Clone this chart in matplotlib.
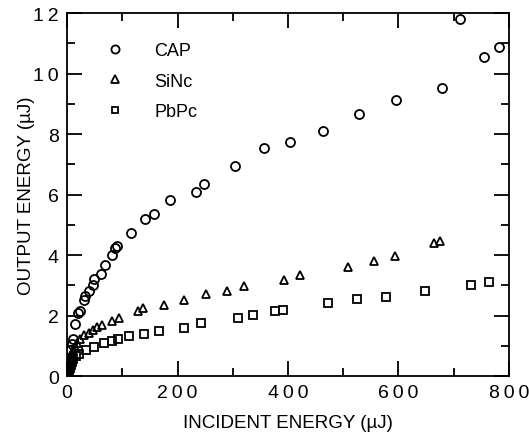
import matplotlib
matplotlib.use("Agg")
import matplotlib.pyplot as plt
from matplotlib.ticker import MultipleLocator, FuncFormatter

plt.rcParams["font.family"] = ["Liberation Sans", "DejaVu Sans"]

# incident energy (uJ) / output energy (uJ)
cap_x = [1, 2, 4, 6, 8, 11, 14, 20, 24, 30, 33, 39, 46, 48, 61, 69, 82, 87, 91,
         115, 141, 157, 187, 233, 247, 304, 357, 404, 463, 529, 595, 679, 711, 755, 782]
cap_y = [0.15, 0.35, 0.6, 0.85, 1.05, 1.22, 1.72, 2.1, 2.16, 2.5, 2.65, 2.8, 3.02, 3.21, 3.38,
         3.66, 4.0, 4.25, 4.29, 4.72, 5.2, 5.35, 5.83, 6.07, 6.35, 6.93, 7.53, 7.75,
         8.09, 8.66, 9.13, 9.51, 11.8, 10.54, 10.87]

sinc_x = [1, 2, 4, 6, 8, 11, 14, 18, 24, 31, 39, 46, 54, 63, 81, 94, 129, 138, 176,
          212, 251, 289, 321, 393, 422, 509, 556, 593, 664, 675]
sinc_y = [0.1, 0.25, 0.4, 0.55, 0.7, 0.85, 0.95, 1.08, 1.22, 1.36, 1.44, 1.53, 1.61, 1.69,
          1.83, 1.93, 2.16, 2.24, 2.35, 2.52, 2.73, 2.8, 2.99, 3.17, 3.35, 3.59,
          3.81, 3.96, 4.40, 4.47]

pbpc_x = [1, 2, 3, 5, 7, 9, 11, 16, 22, 34, 48, 66, 81, 92, 112, 140, 167, 212, 243,
          310, 337, 376, 390, 473, 525, 577, 648, 731, 764]
pbpc_y = [0.05, 0.12, 0.2, 0.28, 0.36, 0.45, 0.56, 0.65, 0.73, 0.87, 0.97, 1.08, 1.15,
          1.22, 1.31, 1.39, 1.5, 1.58, 1.74, 1.91, 2.03, 2.14, 2.19, 2.40, 2.55,
          2.63, 2.82, 3.0, 3.1]

fig = plt.figure(figsize=(5.29, 4.39), dpi=100)
ax = fig.add_axes([0.127, 0.141, 0.835, 0.827])

mk = dict(linestyle="none", markerfacecolor="none", markeredgecolor="black", markeredgewidth=1.3)
ax.plot(cap_x, cap_y, marker="o", markersize=6.5, label="CAP", **mk)
ax.plot(sinc_x, sinc_y, marker="^", markersize=6, label="SiNc", **mk)
ax.plot(pbpc_x, pbpc_y, marker="s", markersize=5.5, label="PbPc", **mk)

ax.set_xlim(0, 800)
ax.set_ylim(0, 12)
ax.xaxis.set_major_locator(MultipleLocator(200))
ax.xaxis.set_minor_locator(MultipleLocator(100))
ax.yaxis.set_major_locator(MultipleLocator(2))
ax.yaxis.set_minor_locator(MultipleLocator(1))

# spaced-out digits like the original typesetting
spaced = FuncFormatter(lambda v, pos: "\u2009".join(str(int(v))))
ax.xaxis.set_major_formatter(spaced)
ax.yaxis.set_major_formatter(spaced)

ax.tick_params(which="both", direction="in", top=True, right=True, width=1.3,
               labelsize=14, pad=6)
ax.tick_params(which="major", length=11)
ax.tick_params(which="minor", length=6)
for s in ax.spines.values():
    s.set_linewidth(1.3)

ax.set_xlabel("INCIDENT ENERGY (\u00b5J)", fontsize=13.5, labelpad=9)
ax.set_ylabel("OUTPUT ENERGY (\u00b5J)", fontsize=13.5, labelpad=-1)

leg = ax.legend(loc="upper left", bbox_to_anchor=(0.03, 0.965), frameon=False,
                fontsize=13, labelspacing=0.75, handletextpad=1.2, markerscale=0.9)

fig.savefig("out.png", dpi=100)
